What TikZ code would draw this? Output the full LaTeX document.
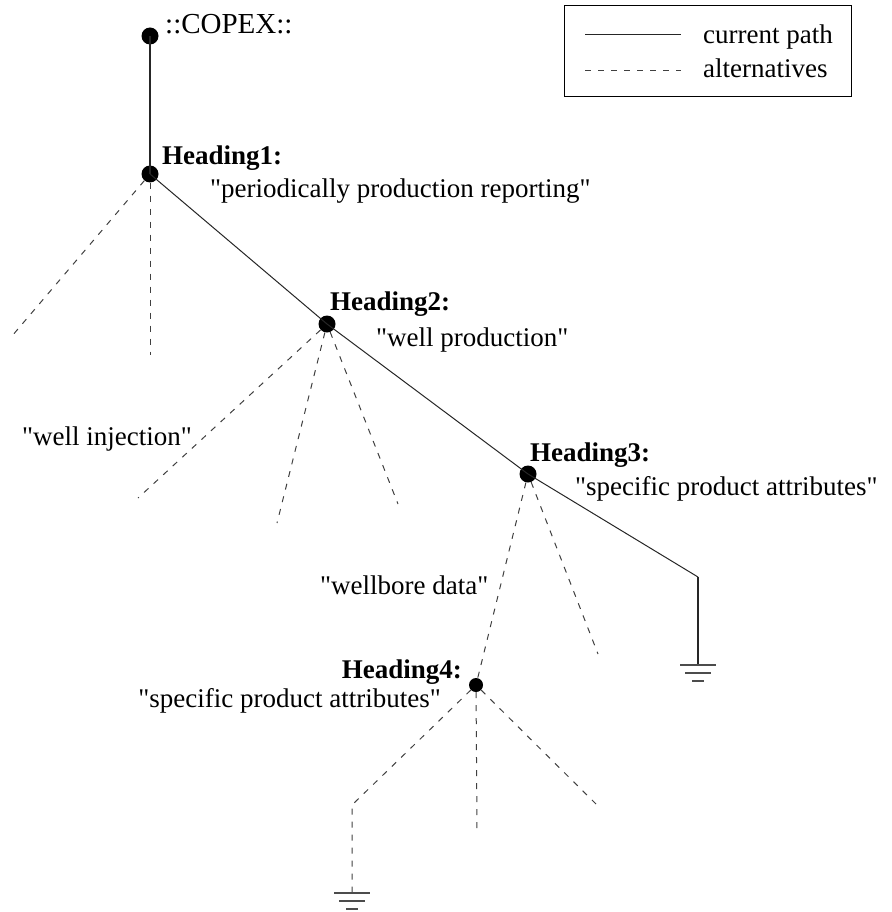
\documentclass[tikz,border=0pt]{standalone}
\usepackage{fontspec}
\setmainfont{Liberation Serif}
\newcommand{\qmark}{\textquotedbl}
\begin{document}
\begin{tikzpicture}[x=1pt,y=-1pt,
  dot/.style={circle,fill=black,inner sep=0pt,minimum size=17pt},
  smalldot/.style={circle,fill=black,inner sep=0pt,minimum size=14pt},
  cur/.style={line width=1pt,black!85},
  alt/.style={line width=1pt,black!75,dash pattern=on 6pt off 7pt},
  lbl/.style={anchor=base west,inner sep=0pt,font=\fontsize{27}{32}\selectfont},
  hd/.style={anchor=base west,inner sep=0pt,font=\fontsize{27}{32}\selectfont\bfseries},
  gnd/.pic={\draw[line width=1.5pt,black!70] (-18,0)--(18,0) (-13,8)--(13,8) (-6,16)--(6,16);}]
\useasboundingbox (0,0) rectangle (891,912);

% legend
\node[draw=black,line width=1pt,minimum width=287pt,minimum height=91pt,inner sep=0pt,anchor=north west] (legend) at (564,5) {};
\coordinate (lsa) at (585,35); \coordinate (lsb) at (681,35);
\coordinate (lda) at (585,71); \coordinate (ldb) at (681,71);
\draw[cur] (lsa) -- (lsb);
\draw[alt] (lda) -- (ldb);
\node[lbl] (lcur) at (703,44) {current path};
\node[lbl] (lalt) at (703,78) {alternatives};

% nodes
\node[dot] (copex) at (150,36) {};
\node[dot] (h1) at (150,174) {};
\node[dot] (h2) at (327,324) {};
\node[dot] (h3) at (528,474) {};
\node[smalldot] (h4) at (476,685) {};

% labels
\node[lbl,font=\fontsize{29}{34}\selectfont] (tcopex) at (165,34) {::COPEX::};
\node[hd] (th1) at (162,165) {Heading1:};
\node[lbl] (q1) at (210,197) {\qmark periodically production reporting\qmark};
\node[hd] (th2) at (330,310) {Heading2:};
\node[lbl] (q2) at (376,346) {\qmark well production\qmark};
\node[lbl] (qinj) at (22,445) {\qmark well injection\qmark};
\node[hd] (th3) at (530,461) {Heading3:};
\node[lbl] (q3) at (575,495) {\qmark specific product attributes\qmark};
\node[lbl] (qwb) at (320,594) {\qmark wellbore data\qmark};
\node[hd,anchor=base east] (th4) at (462,678) {Heading4:};
\node[lbl,anchor=base east] (q4) at (441,707) {\qmark specific product attributes\qmark};

% free ends
\coordinate (a1) at (12,336);
\coordinate (a2) at (150,355);
\coordinate (b1) at (138,498);
\coordinate (b2) at (277,523);
\coordinate (b3) at (398,504);
\coordinate (c1) at (598,654);
\coordinate (e3) at (698,577);
\coordinate (g3) at (698,665);
\coordinate (d1) at (352,805);
\coordinate (g4) at (352,893);
\coordinate (d2) at (477,833);
\coordinate (d3) at (596,804);

% current path
\draw[cur,line width=1.6pt] (copex.center) -- (h1.center);
\draw[cur] (h1.center) -- (h2.center) -- (h3.center) -- (e3);
\draw[cur,line width=1.6pt] (e3) -- (g3);
\pic at (g3) {gnd};

% alternatives
\draw[alt] (h1) -- (a1);
\draw[alt] (h1) -- (a2);
\draw[alt] (h2) -- (b1);
\draw[alt] (h2) -- (b2);
\draw[alt] (h2) -- (b3);
\draw[alt] (h3) -- (h4);
\draw[alt] (h3) -- (c1);
\draw[alt] (h4) -- (d1) -- (g4);
\draw[alt] (h4) -- (d2);
\draw[alt] (h4) -- (d3);
\pic at (g4) {gnd};
\end{tikzpicture}
\end{document}
